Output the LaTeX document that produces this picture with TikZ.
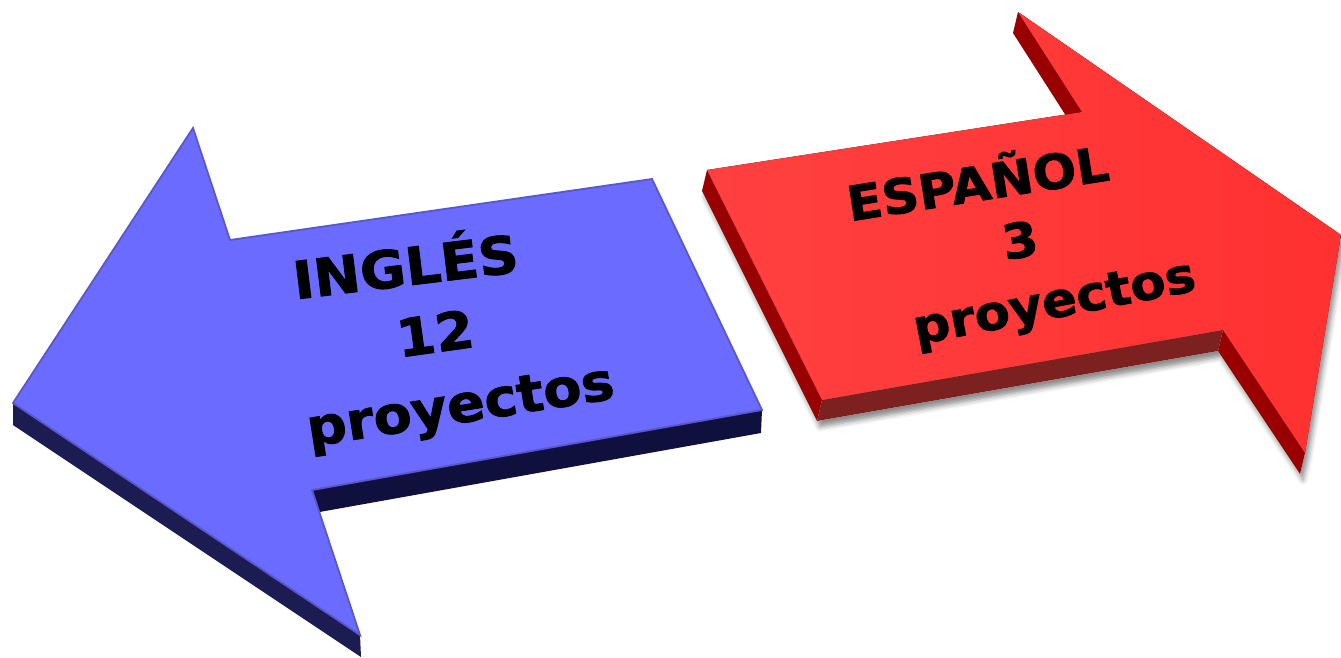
\documentclass[tikz,border=0pt]{standalone}
\usepackage{fontspec}
\setmainfont{DejaVu Sans}[BoldFeatures={FakeBold=1.6, FakeStretch=1.07}]
\usetikzlibrary{shadows.blur}
\definecolor{bluetop}{HTML}{6B6BFF}
\definecolor{blueedge}{HTML}{5858CC}
\definecolor{bluesideA}{HTML}{1C1C52}
\definecolor{bluesideB}{HTML}{10103E}
\definecolor{redtop}{HTML}{FF3636}
\definecolor{redsideA}{HTML}{990000}
\definecolor{redsideB}{HTML}{7D2020}
\tikzset{
  lblB/.style={font=\bfseries\fontsize{52}{52}\selectfont, text=black, inner sep=0pt},
  lblR/.style={font=\bfseries\fontsize{48}{48}\selectfont, text=black, inner sep=0pt},
  bluetopface/.style={fill=bluetop, draw=blueedge, line width=1.8pt, line join=miter},
}
\begin{document}
\begin{tikzpicture}[x=1pt,y=-1pt]
\useasboundingbox (0,0) rectangle (1341,657);
% ---------- Blue arrow (points left) ----------
\fill[bluesideA] (13,403) -- (360,635) -- (361,657) -- (13,425) -- cycle;
\fill[bluesideB] (312,490) -- (762,410) -- (761,433) -- (314,513) -- cycle;
\path[bluetopface] (13,403) -- (193,128) -- (230,240) -- (652,179) -- (762,410) -- (312,490) -- (360,635) -- cycle;
\node[lblB, rotate=7] (ing) at (405,262) {INGLÉS};
\node[lblB, rotate=8] (n12) at (435,333) {12};
\node[lblB, rotate=9] (pb) at (461,410) {proyectos};
% ---------- Red arrow (points right) ----------
\fill[white, blur shadow={shadow xshift=3pt, shadow yshift=-6pt, shadow blur radius=5pt, shadow opacity=45}]
  (707,170) -- (1082,112) -- (1018,12) -- (1341,235) -- (1305,453) -- (1300,474) -- (1218,351) -- (817,421) -- (702,191) -- cycle;
\fill[redsideA] (1018,12) -- (1082,112) -- (1077,133) -- (1013,33) -- cycle;
\fill[redsideA] (707,170) -- (822,400) -- (817,421) -- (702,191) -- cycle;
\fill[redsideB] (822,400) -- (1223,330) -- (1218,351) -- (817,421) -- cycle;
\fill[redsideA] (1223,330) -- (1305,453) -- (1300,474) -- (1218,351) -- cycle;
\fill[left color=redtop!95!white, right color=redtop!90!red] (707,170) -- (1082,112) -- (1018,12) -- (1341,235) -- (1305,453) -- (1223,330) -- (822,400) -- cycle;
\node[lblR, rotate=9] (esp) at (977,179) {ESPAÑOL};
\node[lblR, rotate=9] (n3) at (1020,240) {3};
\node[lblR, rotate=11] (pr) at (1055,306) {proyectos};
\end{tikzpicture}
\end{document}
